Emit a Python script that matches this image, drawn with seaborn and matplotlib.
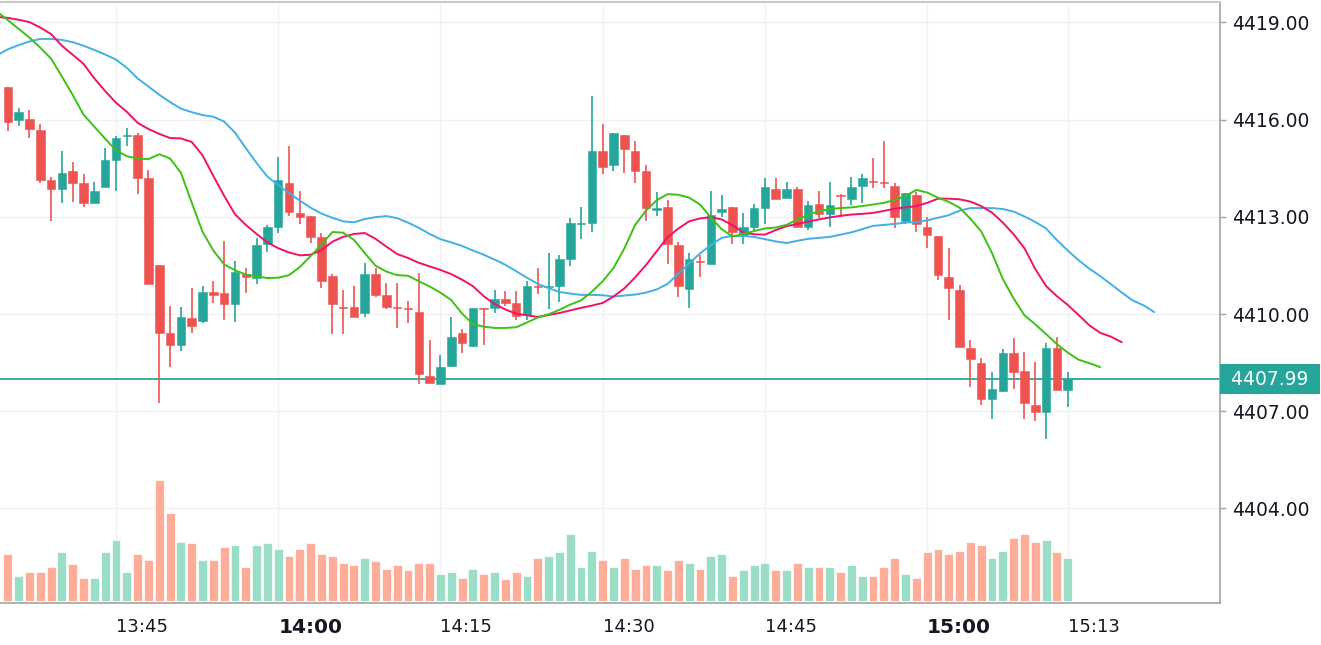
import numpy as np
import pandas as pd
import matplotlib
matplotlib.use("Agg")
import matplotlib.pyplot as plt
import seaborn as sns

# ---- 1-minute candles 13:35 .. 15:13 ----
opens = [4417.01, 4415.99, 4416.02, 4415.69, 4414.13, 4413.87, 4414.40, 4414.03, 4413.42, 4413.93,
         4414.75, 4415.50, 4415.52, 4414.19, 4411.52, 4409.42, 4409.04, 4409.87, 4409.79, 4410.69,
         4410.64, 4410.31, 4411.25, 4411.10, 4412.15, 4412.69, 4414.03, 4413.13, 4413.02, 4412.37,
         4411.18, 4410.19, 4410.22, 4410.04, 4411.25, 4410.58, 4410.19, 4410.14, 4410.07, 4408.09,
         4407.83, 4408.40, 4409.40, 4409.02, 4410.18, 4410.19, 4410.46, 4410.35, 4409.97, 4410.86,
         4410.82, 4410.87, 4411.70, 4412.78, 4412.82, 4415.03, 4414.60, 4415.52, 4415.03, 4414.42,
         4413.21, 4413.29, 4412.13, 4410.76, 4411.64, 4411.54, 4413.16, 4413.29, 4412.44, 4412.69,
         4413.26, 4413.86, 4413.59, 4413.86, 4412.67, 4413.41, 4413.09, 4413.64, 4413.54, 4413.95,
         4414.07, 4414.03, 4413.96, 4412.88, 4413.68, 4412.69, 4412.41, 4411.13, 4410.74, 4408.96,
         4408.48, 4407.37, 4407.63, 4408.80, 4408.25, 4407.19, 4406.96, 4408.96, 4407.65]
highs = [4417.01, 4416.35, 4416.30, 4415.85, 4414.24, 4415.03, 4414.69, 4414.32, 4414.07, 4415.13,
         4415.49, 4415.75, 4415.58, 4414.46, 4411.52, 4410.25, 4410.21, 4410.80, 4410.86, 4411.02,
         4412.25, 4411.63, 4411.41, 4412.35, 4412.74, 4414.85, 4415.19, 4413.80, 4413.02, 4412.51,
         4411.25, 4410.74, 4410.86, 4411.56, 4411.41, 4410.96, 4410.95, 4410.41, 4411.28, 4409.20,
         4408.75, 4409.92, 4409.53, 4410.18, 4410.18, 4410.74, 4410.70, 4410.70, 4411.02, 4411.41,
         4411.87, 4411.82, 4412.95, 4413.29, 4416.74, 4415.85, 4415.58, 4415.52, 4415.35, 4414.60,
         4413.77, 4413.52, 4412.23, 4411.87, 4411.82, 4413.80, 4413.67, 4413.29, 4413.12, 4413.41,
         4414.19, 4414.19, 4414.08, 4413.93, 4413.49, 4413.80, 4414.08, 4413.69, 4414.24, 4414.32,
         4414.80, 4415.35, 4414.03, 4413.74, 4413.77, 4413.00, 4412.41, 4412.03, 4410.89, 4409.20,
         4408.63, 4408.22, 4408.91, 4409.25, 4408.84, 4408.53, 4409.09, 4409.30, 4408.20]
lows = [4415.65, 4415.80, 4415.44, 4414.03, 4412.87, 4413.42, 4413.46, 4413.31, 4413.42, 4413.93,
        4413.80, 4415.19, 4413.70, 4410.92, 4407.26, 4408.37, 4408.87, 4409.42, 4409.73, 4410.33,
        4409.81, 4409.76, 4410.64, 4410.92, 4411.92, 4412.49, 4413.03, 4412.77, 4412.20, 4410.81,
        4409.37, 4409.37, 4409.92, 4409.92, 4410.53, 4410.15, 4409.56, 4409.71, 4407.83, 4407.88,
        4407.83, 4408.37, 4408.80, 4408.99, 4409.04, 4410.04, 4410.25, 4409.81, 4409.81, 4410.61,
        4410.14, 4410.38, 4411.48, 4412.31, 4412.54, 4414.31, 4414.42, 4414.36, 4414.03, 4412.87,
        4413.02, 4411.54, 4410.53, 4410.19, 4411.15, 4411.54, 4413.00, 4412.16, 4412.16, 4412.59,
        4412.78, 4413.54, 4413.59, 4412.69, 4412.59, 4412.95, 4412.69, 4413.00, 4413.36, 4413.42,
        4413.88, 4413.88, 4412.64, 4412.78, 4412.54, 4412.03, 4411.05, 4409.81, 4408.99, 4407.76,
        4407.19, 4406.75, 4407.58, 4407.68, 4406.75, 4406.71, 4406.14, 4407.65, 4407.14]
closes = [4415.92, 4416.24, 4415.71, 4414.13, 4413.87, 4414.36, 4414.04, 4413.42, 4413.79, 4414.74,
          4415.42, 4415.52, 4414.20, 4410.92, 4409.42, 4409.04, 4409.92, 4409.64, 4410.69, 4410.59,
          4410.31, 4411.30, 4411.15, 4412.13, 4412.69, 4414.13, 4413.14, 4412.98, 4412.37, 4411.03,
          4410.32, 4410.16, 4409.92, 4411.25, 4410.58, 4410.21, 4410.16, 4410.12, 4408.15, 4407.88,
          4408.35, 4409.30, 4409.10, 4410.18, 4410.14, 4410.46, 4410.35, 4409.94, 4410.86, 4410.82,
          4410.84, 4411.69, 4412.80, 4412.80, 4415.03, 4414.53, 4415.58, 4415.09, 4414.42, 4413.26,
          4413.26, 4412.15, 4410.87, 4411.69, 4411.60, 4413.07, 4413.23, 4412.54, 4412.69, 4413.26,
          4413.91, 4413.54, 4413.86, 4412.69, 4413.36, 4413.09, 4413.36, 4413.62, 4413.91, 4414.19,
          4414.05, 4414.00, 4412.98, 4413.74, 4412.77, 4412.44, 4411.20, 4410.81, 4408.99, 4408.60,
          4407.37, 4407.68, 4408.80, 4408.20, 4407.24, 4406.96, 4408.96, 4407.65, 4407.99]
volumes = [467, 250, 287, 287, 340, 487, 373, 233, 233, 487,
           610, 287, 467, 413, 1207, 880, 593, 577, 413, 413,
           540, 557, 340, 557, 577, 520, 450, 520, 577, 467,
           450, 377, 360, 430, 397, 323, 360, 307, 377, 377,
           270, 287, 233, 323, 270, 287, 217, 287, 250, 430,
           450, 487, 667, 340, 503, 413, 340, 430, 323, 360,
           360, 307, 413, 377, 323, 450, 467, 250, 307, 360,
           377, 307, 307, 377, 340, 340, 340, 287, 360, 250,
           250, 340, 430, 270, 233, 487, 520, 467, 503, 593,
           557, 430, 503, 630, 667, 593, 610, 487, 430]

# ---- Alligator lines (shifted forward), first point at 13:34 ----
lips = [4419.33, 4419.07, 4418.80, 4418.53, 4418.22, 4417.88, 4417.33, 4416.76, 4416.15, 4415.78,
        4415.41, 4415.05, 4414.87, 4414.80, 4414.78, 4414.93, 4414.80, 4414.36, 4413.44, 4412.54,
        4411.96, 4411.53, 4411.35, 4411.22, 4411.16, 4411.11, 4411.12, 4411.20, 4411.45, 4411.79,
        4412.14, 4412.53, 4412.51, 4412.29, 4411.88, 4411.49, 4411.31, 4411.20, 4411.18, 4411.01,
        4410.85, 4410.66, 4410.43, 4410.01, 4409.69, 4409.61, 4409.57, 4409.57, 4409.59, 4409.74,
        4409.89, 4409.99, 4410.13, 4410.29, 4410.42, 4410.69, 4411.01, 4411.42, 4412.02, 4412.75,
        4413.19, 4413.51, 4413.70, 4413.68, 4413.59, 4413.38, 4412.98, 4412.62, 4412.39, 4412.47,
        4412.56, 4412.64, 4412.67, 4412.75, 4412.92, 4413.06, 4413.17, 4413.24, 4413.27, 4413.29,
        4413.33, 4413.38, 4413.43, 4413.52, 4413.64, 4413.83, 4413.75, 4413.59, 4413.46, 4413.28,
        4412.94, 4412.55, 4411.88, 4411.08, 4410.48, 4409.96, 4409.68, 4409.38, 4409.07, 4408.81,
        4408.59, 4408.48, 4408.36]
teeth = [4419.17, 4419.14, 4419.08, 4419.01, 4418.84, 4418.64, 4418.28, 4418.00, 4417.72, 4417.27,
         4416.88, 4416.52, 4416.24, 4415.90, 4415.71, 4415.56, 4415.43, 4415.42, 4415.31, 4414.90,
         4414.26, 4413.65, 4413.08, 4412.75, 4412.47, 4412.21, 4412.03, 4411.90, 4411.81, 4411.83,
         4411.97, 4412.23, 4412.38, 4412.47, 4412.50, 4412.32, 4412.08, 4411.85, 4411.73, 4411.58,
         4411.47, 4411.36, 4411.23, 4411.06, 4410.86, 4410.55, 4410.31, 4410.14, 4410.01, 4409.96,
         4409.91, 4409.97, 4410.03, 4410.11, 4410.19, 4410.26, 4410.34, 4410.54, 4410.79, 4411.13,
         4411.51, 4411.94, 4412.37, 4412.64, 4412.86, 4412.95, 4412.99, 4412.92, 4412.74, 4412.52,
         4412.46, 4412.45, 4412.59, 4412.71, 4412.78, 4412.85, 4412.92, 4412.98, 4413.03, 4413.07,
         4413.09, 4413.12, 4413.18, 4413.25, 4413.29, 4413.33, 4413.43, 4413.56, 4413.56, 4413.54,
         4413.47, 4413.33, 4413.13, 4412.82, 4412.46, 4412.03, 4411.39, 4410.86, 4410.55, 4410.28,
         4409.97, 4409.65, 4409.42, 4409.30, 4409.13]
jaw = [4417.99, 4418.17, 4418.30, 4418.41, 4418.49, 4418.49, 4418.46, 4418.39, 4418.28, 4418.15,
       4418.01, 4417.85, 4417.60, 4417.27, 4417.02, 4416.77, 4416.54, 4416.34, 4416.23, 4416.14,
       4416.09, 4415.94, 4415.60, 4415.12, 4414.66, 4414.24, 4413.98, 4413.73, 4413.50, 4413.28,
       4413.10, 4412.97, 4412.86, 4412.83, 4412.93, 4412.99, 4413.02, 4412.96, 4412.82, 4412.66,
       4412.47, 4412.31, 4412.21, 4412.10, 4411.96, 4411.83, 4411.68, 4411.52, 4411.32, 4411.12,
       4410.93, 4410.80, 4410.68, 4410.63, 4410.59, 4410.59, 4410.58, 4410.54, 4410.57, 4410.60,
       4410.66, 4410.76, 4410.93, 4411.24, 4411.56, 4411.87, 4412.13, 4412.35, 4412.41, 4412.41,
       4412.38, 4412.31, 4412.24, 4412.19, 4412.26, 4412.32, 4412.35, 4412.38, 4412.45, 4412.52,
       4412.62, 4412.72, 4412.75, 4412.78, 4412.82, 4412.84, 4412.89, 4412.97, 4413.05, 4413.19,
       4413.27, 4413.27, 4413.27, 4413.24, 4413.16, 4413.01, 4412.84, 4412.64, 4412.28, 4411.96,
       4411.66, 4411.40, 4411.17, 4410.92, 4410.66, 4410.42, 4410.27, 4410.06]

last_price = 4407.99
price_ticks = [4404.0, 4407.0, 4410.0, 4413.0, 4416.0, 4419.0]
time_ticks = ["13:45", "14:00", "14:15", "14:30", "14:45", "15:00", "15:13"]
bold_ticks = ["14:00", "15:00"]

UP, DOWN = "#26a69a", "#ef5350"
VOL_UP, VOL_DOWN = "#9bdec8", "#ffac98"
C_LIPS, C_TEETH, C_JAW = "#3cc114", "#f0126a", "#42b0e6"
AXIS_C, GRID_C, TXT_C = "#a3a3a3", "#f1f1f3", "#131722"


def to_min(ts):
    return np.asarray(ts.hour * 60 + ts.minute, dtype=float)


sns.set_style("white")
plt.rcParams["font.family"] = ["DejaVu Sans"]

t_bar = to_min(pd.date_range("2021-01-04 13:35", periods=len(opens), freq="min"))
t_line0 = pd.Timestamp("2021-01-04 13:34")

o, h, l, c = map(np.asarray, (opens, highs, lows, closes))
up = c >= o
col = np.where(up, UP, DOWN)
vcol = np.where(up, VOL_UP, VOL_DOWN)

fig = plt.figure(figsize=(13.21, 6.45), dpi=100)
ax = fig.add_axes([0, 1 - 603 / 645, 1220 / 1321, 601 / 645])

# grid
for p in price_ticks:
    ax.axhline(p, color=GRID_C, lw=1, zorder=0)
tick_pos = to_min(pd.to_datetime(["2021-01-04 " + s for s in time_ticks]))
for x in tick_pos:
    ax.axvline(x, color=GRID_C, lw=1, zorder=0)

# last-price line
ax.axhline(last_price, color=UP, lw=1.3, zorder=1)

# candles
ax.vlines(t_bar, l, h, colors=col, lw=1.2, zorder=2)
body = np.where(np.abs(c - o) < 0.03, 0.03, c - o)
ax.bar(t_bar, body, bottom=o, width=0.79, color=col, edgecolor=col, lw=0.4, zorder=3)

# alligator lines
for vals, colr in ((jaw, C_JAW), (teeth, C_TEETH), (lips, C_LIPS)):
    tx = to_min(pd.date_range(t_line0, periods=len(vals), freq="min"))
    sns.lineplot(x=tx, y=vals, color=colr, lw=1.4, ax=ax, zorder=4, legend=False)

ax.set_xlim(t_bar[0] - 0.726, t_bar[0] + 112.08)
ax.set_ylim(4401.08, 4419.63)

# volume on a twin axis
axv = ax.twinx()
axv.bar(t_bar, volumes, width=0.82, color=vcol, edgecolor="white", lw=0.5, zorder=1)
axv.set_ylim(-20, 5990)
axv.set_yticks([])
for s in axv.spines.values():
    s.set_visible(False)

# axes styling
ax.yaxis.tick_right()
ax.set_yticks(price_ticks)
ax.set_yticklabels([f"{p:.2f}" for p in price_ticks])
ax.set_xticks(tick_pos)
ax.set_xticklabels(time_ticks)
ax.set_xlabel("")
ax.set_ylabel("")
ax.tick_params(axis="y", right=True, left=False, labelright=True, labelleft=False,
               length=4, width=1, color=AXIS_C, pad=5, labelsize=13.5, labelcolor=TXT_C)
ax.tick_params(axis="x", length=4, width=1, color=AXIS_C, pad=7, labelsize=13,
               labelcolor=TXT_C)
for lbl in ax.get_xticklabels():
    lbl.set_ha("left")
    if lbl.get_text() in bold_ticks:
        lbl.set_fontweight("bold")
        lbl.set_fontsize(14.5)

ax.spines["left"].set_visible(False)
for k in ("right", "bottom"):
    ax.spines[k].set_color(AXIS_C)
    ax.spines[k].set_linewidth(1.2)
ax.spines["top"].set_color("#c9c9c9")
ax.spines["top"].set_linewidth(1.5)

# last price tag
ax.annotate(f" {last_price:.2f} ", xy=(1, last_price), xycoords=("axes fraction", "data"),
            xytext=(3.8, 0), textcoords="offset points", ha="left", va="center",
            color="white", fontsize=13.5,
            bbox=dict(boxstyle="square,pad=0.28", fc=UP, ec="none"),
            annotation_clip=False)

fig.savefig("out.png", dpi=100)
